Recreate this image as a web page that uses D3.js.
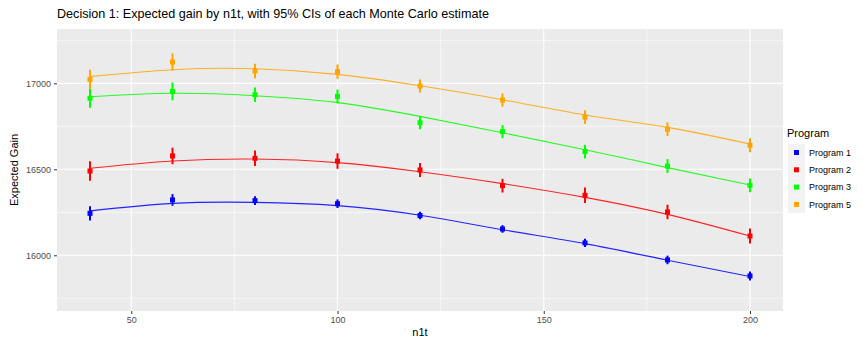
<!DOCTYPE html>
<html><head><meta charset="utf-8">
<script src="https://cdn.jsdelivr.net/npm/d3@7"></script>
<style>body{margin:0;background:#fff}svg{display:block}text{font-family:"Liberation Sans",Arial,sans-serif}</style>
</head><body>
<script>
const n1t = [40, 60, 80, 100, 120, 140, 160, 180, 200];
const programs = ["Program 1", "Program 2", "Program 3", "Program 5"];
const colors = ["#0000FF", "#FF0000", "#00FF00", "#FFA500"];
// Monte Carlo estimates
const est1 = [16244, 16322, 16318, 16300, 16231, 16153, 16072, 15973, 15880];
const est2 = [16490, 16578, 16564, 16548, 16496, 16405, 16349, 16252, 16112];
const est3 = [16913, 16953, 16934, 16924, 16771, 16719, 16603, 16519, 16407];
const est5 = [17023, 17124, 17072, 17068, 16984, 16903, 16804, 16733, 16640];
// 95% CI half-widths
const ci1 = [41, 34, 25, 25, 22, 22, 24, 25, 26];
const ci2 = [57, 48, 45, 45, 40, 40, 45, 42, 44];
const ci3 = [55, 52, 42, 40, 38, 38, 40, 40, 40];
const ci5 = [56, 50, 42, 42, 38, 38, 40, 40, 41];
// Fitted curve values
const fit1 = [16258, 16302, 16308, 16289, 16233, 16149, 16068, 15971, 15876];
const fit2 = [16506, 16548, 16560, 16539, 16486, 16417, 16337, 16238, 16112];
const fit3 = [16922, 16942, 16928, 16888, 16808, 16713, 16614, 16510, 16409];
const fit5 = [17039, 17079, 17085, 17052, 16986, 16905, 16816, 16744, 16647];
const xTicks = [50, 100, 150, 200];
const yTicks = [16000, 16500, 17000];
const xMinor = [75, 125, 175];
const yMinor = [15750, 16250, 16750, 17250];

const ests = [est1, est2, est3, est5], cis = [ci1, ci2, ci3, ci5], fits = [fit1, fit2, fit3, fit5];

const W = 865, H = 340;
const P = {l: 57, r: 783, t: 29, b: 311};
const svg = d3.select("body").append("svg").attr("width", W).attr("height", H);
const x = d3.scaleLinear().domain([32, 208]).range([P.l, P.r]);
const y = d3.scaleLinear().domain([15676, 17316]).range([P.b, P.t]);

svg.append("rect").attr("x", P.l).attr("y", P.t).attr("width", P.r - P.l).attr("height", P.b - P.t).attr("fill", "#EBEBEB");
const g = svg.append("g");
g.selectAll(".xm").data(xMinor).join("line").attr("x1", d => x(d)).attr("x2", d => x(d)).attr("y1", P.t).attr("y2", P.b).attr("stroke", "#fff").attr("stroke-width", 0.6);
g.selectAll(".ym").data(yMinor).join("line").attr("y1", d => y(d)).attr("y2", d => y(d)).attr("x1", P.l).attr("x2", P.r).attr("stroke", "#fff").attr("stroke-width", 0.6);
g.selectAll(".xM").data(xTicks).join("line").attr("x1", d => x(d)).attr("x2", d => x(d)).attr("y1", P.t).attr("y2", P.b).attr("stroke", "#fff").attr("stroke-width", 1.1);
g.selectAll(".yM").data(yTicks).join("line").attr("y1", d => y(d)).attr("y2", d => y(d)).attr("x1", P.l).attr("x2", P.r).attr("stroke", "#fff").attr("stroke-width", 1.1);

// axes
const xa = svg.append("g").attr("transform", `translate(0,${P.b})`).call(d3.axisBottom(x).tickValues(xTicks).tickFormat(d3.format("d")).tickSize(3).tickPadding(3));
const ya = svg.append("g").attr("transform", `translate(${P.l},0)`).call(d3.axisLeft(y).tickValues(yTicks).tickFormat(d3.format("d")).tickSize(3).tickPadding(3));
[xa, ya].forEach(a => {
  a.select(".domain").remove();
  a.selectAll(".tick line").attr("stroke", "#333").attr("stroke-width", 1);
  a.selectAll(".tick text").attr("fill", "#4D4D4D").style("font-size", "9px").style("font-family", "Liberation Sans, Arial, sans-serif");
});

const line = d3.line().x((d, i) => x(n1t[i])).y(d => y(d)).curve(d3.curveNatural);
fits.forEach((f, k) => {
  svg.append("path").attr("d", line(f)).attr("fill", "none").attr("stroke", colors[k]).attr("stroke-width", 1.1).attr("opacity", 0.85);
});
ests.forEach((e, k) => {
  const gg = svg.append("g");
  gg.selectAll("line").data(e).join("line")
    .attr("x1", (d, i) => x(n1t[i])).attr("x2", (d, i) => x(n1t[i]))
    .attr("y1", (d, i) => y(d - cis[k][i])).attr("y2", (d, i) => y(d + cis[k][i]))
    .attr("stroke", colors[k]).attr("stroke-width", 2);
  gg.selectAll("rect").data(e).join("rect")
    .attr("x", (d, i) => x(n1t[i]) - 2.5).attr("y", d => y(d) - 2.5)
    .attr("width", 5).attr("height", 5).attr("fill", colors[k]);
});

svg.append("text").attr("x", P.l).attr("y", 18).style("font-size", "12.6px").attr("fill", "#000")
  .text("Decision 1: Expected gain by n1t, with 95% CIs of each Monte Carlo estimate");
svg.append("text").attr("x", (P.l + P.r) / 2).attr("y", 336).attr("text-anchor", "middle").style("font-size", "11px").attr("fill", "#000").text("n1t");
svg.append("text").attr("transform", `translate(18,${(P.t + P.b) / 2}) rotate(-90)`).attr("text-anchor", "middle").style("font-size", "11px").attr("fill", "#000").text("Expected Gain");

// legend
const lg = svg.append("g").attr("transform", "translate(788,137)");
lg.append("text").attr("x", -1).attr("y", 0).style("font-size", "11px").attr("fill", "#000").text("Program");
programs.forEach((p, k) => {
  const ky = 7 + k * 17.3;
  lg.append("rect").attr("x", 0).attr("y", ky).attr("width", 17).attr("height", 17).attr("fill", "#F2F2F2");
  lg.append("rect").attr("x", 6).attr("y", ky + 6).attr("width", 5).attr("height", 5).attr("fill", colors[k]);
  lg.append("text").attr("x", 21).attr("y", ky + 8.5).attr("dy", "0.35em").style("font-size", "9px").attr("fill", "#000").text(p);
});
</script>
</body></html>
